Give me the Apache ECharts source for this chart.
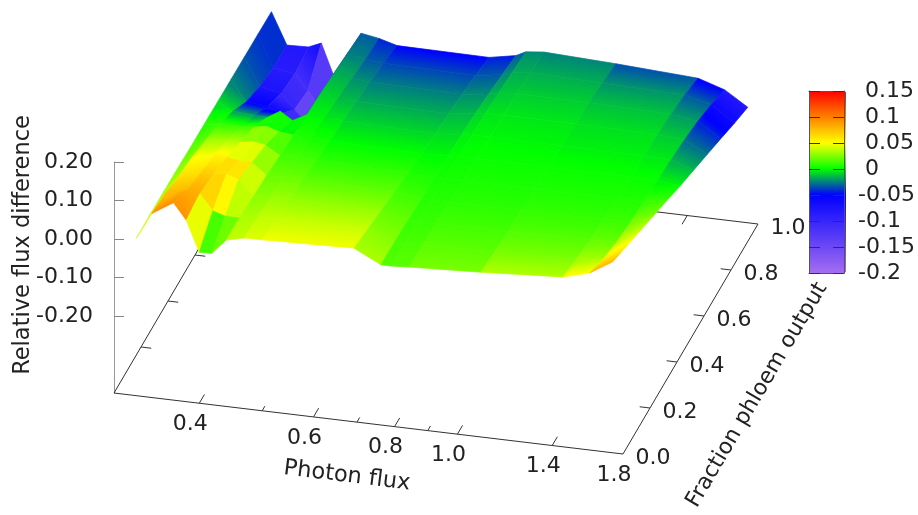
<!DOCTYPE html>
<html><head><meta charset="utf-8">
<script src="https://cdn.jsdelivr.net/npm/echarts@6/dist/echarts.min.js"></script>
<style>html,body{margin:0;padding:0;background:#fff}#c{width:918px;height:515px}</style>
</head><body><div id="c"></div>
<script>
// ---- data ----
const fractions = [0,0.1,0.2,0.3,0.4,0.5,0.6,0.7,0.8,0.9,1.0];
const fluxColumns = [0.32,0.338,0.365,0.382,0.40,0.418,0.44,0.469,0.50,0.693,0.762,0.79,0.842,1.087,1.455,1.60,1.736];
const z032  = [.009,.010,.009,.008,.006,.005,.004,.003,.002,.001,0];
const z0338 = [.078,.07,.055,.045,.03,.012,-.015,-.05,-.07,-.082,-.082];
const z0365 = [.113,.085,.07,.055,.035,.01,-.02,-.055,-.08,-.09,-.08];
const z0382 = [.071,.08,.07,.055,.035,.015,-.02,-.07,-.12,-.13,-.066];
const z040  = [-.008,.04,.075,.05,.04,.02,0,-.09,-.15,-.17,-.151];
const z0418 = [-.007,.03,.065,.05,.035,.01,-.02,-.13,-.16,-.18,-.2];
const z044  = [.032,.03,.025,.02,.012,.006,0,-.005,-.012,-.02,-.028];
const z0469 = [.043,.038,.03,.022,.014,.005,-.003,-.012,-.02,-.03,-.036];
const z050  = [.044,.038,.03,.02,.011,.002,-.006,-.015,-.024,-.035,-.049];
const z0693 = [.051,.04,.028,.017,.007,-.002,-.01,-.018,-.027,-.038,-.051];
const z0762 = [.016,.014,.011,.008,.004,0,-.004,-.01,-.018,-.028,-.038];
const z079  = [.016,.013,.01,.007,.004,.001,-.002,-.006,-.012,-.018,-.025];
const z0842 = [.019,.016,.012,.008,.005,.002,-.001,-.004,-.009,-.014,-.02];
const z1087 = [.028,.02,.014,.009,.005,.002,-.002,-.005,-.01,-.018,-.028];
const z1455 = [.041,.028,.018,.011,.006,.002,-.003,-.007,-.014,-.024,-.04];
const z160  = [.06,.036,.021,.012,.006,.001,-.005,-.013,-.024,-.04,-.062];
const z1736 = [.096,.076,.056,.036,.016,-.005,-.024,-.043,-.062,-.082,-.1];
const surface = [z032,z0338,z0365,z0382,z040,z0418,z044,z0469,z050,z0693,z0762,z079,z0842,z1087,z1455,z160,z1736];

const photonMajor = [0.4,0.6,0.8,1.0,1.4,1.8];
const photonMinor = [0.5,0.7,0.9];
const fractionTicks = [0,0.2,0.4,0.6,0.8,1.0];
const zTicks = [-0.2,-0.1,0,0.1,0.2];
const palette = ['#a46ef0','#6d49f5','#3725fa','#0000ff','#00ff00','#ffff00','#ff8000','#ff0000'];

// ---- view constants ----
const FLUX_MIN=0.2955, FLUX_MAX=1.8, Z_BASE=-0.4, Z_TOP=0.2, C_MIN=-0.2, C_MAX=0.15, FACET_FROM=0.382, FACET_TO=0.44;
const G={left:114,top:162,width:509,height:231};
const SHEAR={fx:135,fy:-230,uy:61};
const INK='#222', FONT='22px "DejaVu Sans"', TITLE='22.5px "DejaVu Sans"';

function project(api,x,f,z){
  const p=api.coord([x,z]);
  const u=(p[0]-G.left)/G.width;
  return [p[0]+SHEAR.fx*f, p[1]+SHEAR.uy*u+SHEAR.fy*f];
}
function cAt(z){
  const t=Math.max(0,Math.min(1,(z-C_MIN)/(C_MAX-C_MIN)));
  return echarts.color.lerp(t,palette);
}

// frame: [x1,f1,x2,f2]
const X0=FLUX_MIN, X1=FLUX_MAX;
const frameSegs=[[X0,0,X1,0],[X1,0,X1,1],[X1,1,X0,1],[X0,1,X0,0]];
photonMajor.forEach(v=>{ if(v<X1){frameSegs.push([v,0,v,0.038]);frameSegs.push([v,1,v,0.962]);}});
photonMinor.forEach(v=>{frameSegs.push([v,0,v,0.02]);frameSegs.push([v,1,v,0.98]);});
fractionTicks.forEach(f=>{ if(f>0&&f<1){frameSegs.push([X1,f,X1*0.964,f]);frameSegs.push([X0,f,X0*1.037,f]);}});

const quads=[];
for(let j=fractions.length-2;j>=0;j--){
  for(let i=0;i<fluxColumns.length-1;i++){
    const m=(surface[i][j]+surface[i+1][j]+surface[i][j+1]+surface[i+1][j+1])/4;
    quads.push([fluxColumns[i],fractions[j],i,j,m]);
  }
}
function renderQuad(params,api){
  const i=api.value(2), j=api.value(3);
  const c=(a,b)=>project(api,fluxColumns[a],fractions[b],surface[a][b]);
  const p00=c(i,j),p10=c(i+1,j),p11=c(i+1,j+1),p01=c(i,j+1);
  let fill;
  if(fluxColumns[i]>=FACET_FROM && fluxColumns[i]<FACET_TO){
    fill=cAt(api.value(4));
  }else{
    const zlo=(surface[i][j]+surface[i+1][j])/2, zhi=(surface[i][j+1]+surface[i+1][j+1])/2;
    const lo=[(p00[0]+p10[0])/2,(p00[1]+p10[1])/2], hi=[(p01[0]+p11[0])/2,(p01[1]+p11[1])/2];
    let ex=p10[0]-p00[0], ey=p10[1]-p00[1]; const el=Math.hypot(ex,ey)||1; ex/=el; ey/=el;
    const dx=hi[0]-lo[0], dy=hi[1]-lo[1], dot=dx*ex+dy*ey;
    const gx=dx-dot*ex, gy=dy-dot*ey;
    const stops=[0,.125,.25,.375,.5,.625,.75,.875,1].map(t=>({offset:t,color:cAt(zlo+(zhi-zlo)*t)}));
    fill=new echarts.graphic.LinearGradient(lo[0],lo[1],lo[0]+gx,lo[1]+gy,stops,true);
  }
  return {type:'polygon',shape:{points:[p00,p10,p11,p01]},style:{fill:fill,stroke:fill,lineWidth:0.7}};
}
function renderFrame(params,api){
  const a=project(api,api.value(0),api.value(1),Z_BASE);
  const b=project(api,api.value(2),api.value(3),Z_BASE);
  return {type:'line',shape:{x1:a[0],y1:a[1],x2:b[0],y2:b[1]},style:{stroke:'#333',lineWidth:1}};
}
const labels=[];
photonMajor.forEach(v=>labels.push([v,0,v.toFixed(1),-9,21]));
fractionTicks.forEach(f=>labels.push([X1,f,f.toFixed(1),30,4]));
function renderLabel(params,api){
  const idx=params.dataIndex, d=labels[idx];
  const p=project(api,d[0],d[1],Z_BASE);
  return {type:'text',x:p[0]+d[3],y:p[1]+d[4],style:{text:d[2],font:FONT,fill:INK,textAlign:'center',textVerticalAlign:'middle'}};
}

const chart=echarts.init(document.getElementById('c'),null,{renderer:'canvas'});
chart.setOption({
  animation:false,
  backgroundColor:'#fff',
  grid:[
    {left:G.left,top:G.top,width:G.width,height:G.height},
    {left:809,top:91,width:37,height:182}
  ],
  xAxis:[
    {type:'log',gridIndex:0,min:FLUX_MIN,max:FLUX_MAX,show:false},
    {type:'value',gridIndex:1,min:0,max:1,position:'bottom',z:10,axisLine:{show:true,onZero:false,lineStyle:{color:'#555'}},axisTick:{show:false},axisLabel:{show:false},splitLine:{show:false}},
    {type:'value',gridIndex:1,min:0,max:1,position:'top',z:10,axisLine:{show:true,onZero:false,lineStyle:{color:'#555'}},axisTick:{show:false},axisLabel:{show:false},splitLine:{show:false}}
  ],
  yAxis:[
    {type:'value',gridIndex:0,min:Z_BASE,max:Z_TOP,interval:0.1,position:'left',
      axisLine:{show:true,onZero:false,lineStyle:{color:'#999'}},
      axisTick:{show:true,inside:true,length:10,lineStyle:{color:'#888'},customValues:zTicks},
      axisLabel:{show:true,margin:21,color:INK,fontFamily:'DejaVu Sans',fontSize:22,customValues:zTicks,formatter:v=>Number(v).toFixed(2)},
      splitLine:{show:false}},
    {type:'value',gridIndex:1,min:C_MIN,max:C_MAX,interval:0.05,position:'right',z:10,
      axisLine:{show:true,onZero:false,lineStyle:{color:'#555'}},
      axisTick:{show:true,inside:true,length:11,lineStyle:{color:'#333'}},
      axisLabel:{show:true,margin:14,color:INK,fontFamily:'DejaVu Sans',fontSize:22,align:'left',
        formatter:v=>{const n=Number(Number(v).toFixed(2));return (n<0?'':'\u00a0')+String(n);}},
      splitLine:{show:false}},
    {type:'value',gridIndex:1,min:C_MIN,max:C_MAX,interval:0.05,position:'left',z:10,
      axisLine:{show:true,onZero:false,lineStyle:{color:'#555'}},
      axisTick:{show:true,inside:true,length:11,lineStyle:{color:'#333'}},
      axisLabel:{show:false},splitLine:{show:false}}
  ],
  visualMap:{type:'continuous',min:C_MIN,max:C_MAX,dimension:4,seriesIndex:1,calculable:false,realtime:false,
    left:809,top:91,itemWidth:37,itemHeight:182,text:['',''],textGap:0,padding:0,showLabel:false,
    inRange:{color:palette},outOfRange:{color:palette}},
  series:[
    {type:'custom',name:'frame',coordinateSystem:'cartesian2d',xAxisIndex:0,yAxisIndex:0,silent:true,z:1,
      data:frameSegs,encode:{x:0,y:1},renderItem:renderFrame},
    {type:'custom',name:'Relative flux difference',coordinateSystem:'cartesian2d',xAxisIndex:0,yAxisIndex:0,silent:true,z:2,
      data:quads,dimensions:['flux','fraction','i','j','mean'],encode:{x:0,y:1},renderItem:renderQuad},
    {type:'custom',name:'tick labels',coordinateSystem:'cartesian2d',xAxisIndex:0,yAxisIndex:0,silent:true,z:3,
      data:labels.map(l=>[l[0],l[1]]),encode:{x:0,y:1},renderItem:renderLabel}
  ],
  graphic:[
    {type:'text',x:23,y:245,rotation:Math.PI/2,style:{text:'Relative flux difference',font:TITLE,fill:INK,textAlign:'center',textVerticalAlign:'middle'}},
    {type:'text',x:347,y:476,rotation:-7*Math.PI/180,style:{text:'Photon flux',font:TITLE,fill:INK,textAlign:'center',textVerticalAlign:'middle'}},
    {type:'text',x:757,y:395,rotation:59.5*Math.PI/180,style:{text:'Fraction phloem output',font:FONT,fill:INK,textAlign:'center',textVerticalAlign:'middle'}}
  ]
});
</script></body></html>
